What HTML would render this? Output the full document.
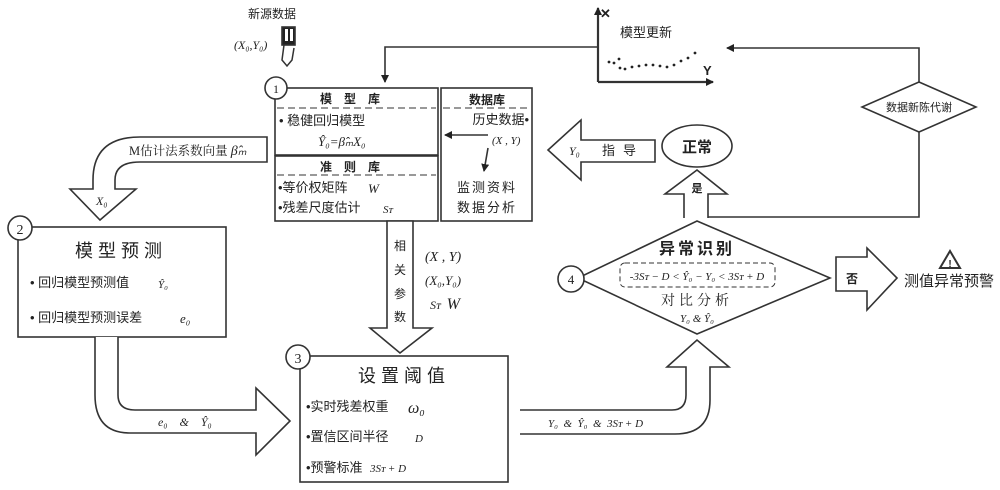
<!DOCTYPE html>
<html><head><meta charset="utf-8"><style>
html,body{margin:0;padding:0;background:#fff;width:1000px;height:490px;overflow:hidden}
svg{display:block}
text{font-family:"Liberation Serif","Noto Serif CJK SC","Noto Sans CJK SC",serif;fill:#222;white-space:pre}
.b{font-family:"Liberation Sans","Noto Sans CJK SC",sans-serif;font-weight:bold}
.s{font-family:"Liberation Sans","Noto Sans CJK SC",sans-serif}
.i{font-style:italic;font-family:"Liberation Serif",serif}
</style></head><body>
<svg width="1000" height="490" viewBox="0 0 1000 490" xmlns="http://www.w3.org/2000/svg">
<defs><marker id="ah" markerWidth="8" markerHeight="8" refX="7" refY="4" orient="auto" markerUnits="userSpaceOnUse"><path d="M0,0 L8,4 L0,8 z" fill="#222"/></marker></defs>
<g fill="none" stroke="#333" stroke-width="1.6">
<polyline points="598,47 385,47 385,82" marker-end="url(#ah)"/>
<polyline points="919,82 919,48 727,48" marker-end="url(#ah)"/>
<polyline points="919,132 919,217 708,217"/>
<line x1="598" y1="82" x2="713" y2="82" marker-end="url(#ah)" stroke-width="2.2"/>
<line x1="598" y1="82" x2="598" y2="8" marker-end="url(#ah)" stroke-width="2.2"/>
<rect x="275" y="88" width="163" height="67"/>
<rect x="275" y="156" width="163" height="65"/>
<rect x="441" y="88" width="91" height="133"/>
<line x1="277" y1="108" x2="436" y2="108" stroke-dasharray="7,4" stroke-width="1"/>
<line x1="277" y1="175" x2="436" y2="175" stroke-dasharray="7,4" stroke-width="1"/>
<line x1="443" y1="108" x2="530" y2="108" stroke-dasharray="7,4" stroke-width="1"/>
<line x1="488" y1="135" x2="445" y2="135" marker-end="url(#ah)"/>
<line x1="488" y1="148" x2="484" y2="171" marker-end="url(#ah)"/>
<rect x="18" y="227" width="208" height="110"/>
<rect x="300" y="356" width="208" height="126"/>
<path d="M267,137 L140,137 Q93,137 93,180 L93,189 L70,189 L100,220 L136,189 L115,189 L115,180 Q115,162 140,162 L267,162 Z" fill="#fff"/>
<path d="M95,337 L95,395 Q95,433 130,433 L256,433 L256,455 L290,421 L256,388 L256,410 L135,410 Q118,410 118,395 L118,337" fill="#fff"/>
<path d="M387,221 L387,328 L370,328 L400,353 L432,328 L413,328 L413,221 Z" fill="#fff"/>
<path d="M520,410 L672,410 Q686,410 686,395 L686,367 L667,367 L697,340 L729,367 L710,367 L710,400 Q710,434 675,434 L520,434" fill="#fff"/>
<path d="M697,221 L830,278 L697,334 L578,278 Z" fill="#fff"/>
<rect x="620" y="263" width="155" height="24" rx="5" stroke-dasharray="5,3" stroke-width="1"/>
<path d="M684,218 L684,194 L665,194 L697,170 L727,194 L708,194 L708,218" fill="#fff"/>
<ellipse cx="697" cy="146" rx="35" ry="21" fill="#fff"/>
<path d="M655,140 L581,140 L581,120 L548,150 L581,180 L581,162 L655,162 Z" fill="#fff"/>
<path d="M836,257 L867,257 L867,248 L897,278 L867,310 L867,291 L836,291 Z" fill="#fff"/>
<path d="M919,82 L976,107 L919,132 L862,107 Z" fill="#fff"/>
<path d="M950,251 L960,268 L940,268 Z" stroke-width="2"/>
<rect x="282" y="27" width="13" height="18" fill="#222"/>
<path d="M284,45 L282,60 L287,66 L292,60 L294,48" stroke-width="1.5"/>
<circle cx="276" cy="88" r="11" fill="#fff"/>
<circle cx="20" cy="228" r="12" fill="#fff"/>
<circle cx="298" cy="357" r="12" fill="#fff"/>
<circle cx="571" cy="279" r="13" fill="#fff"/>
</g>
<rect x="285" y="29" width="3" height="12" fill="#fff"/><rect x="290" y="29" width="3" height="12" fill="#fff"/>
<g fill="#222">
<circle cx="609" cy="62" r="1.4"/><circle cx="614" cy="63" r="1.4"/><circle cx="619" cy="59" r="1.4"/><circle cx="620" cy="68" r="1.4"/><circle cx="625" cy="69" r="1.4"/><circle cx="632" cy="67" r="1.4"/><circle cx="639" cy="66" r="1.4"/><circle cx="646" cy="65" r="1.4"/><circle cx="653" cy="65" r="1.4"/><circle cx="660" cy="66" r="1.4"/><circle cx="667" cy="67" r="1.4"/><circle cx="674" cy="65" r="1.4"/><circle cx="681" cy="61" r="1.4"/><circle cx="688" cy="58" r="1.4"/><circle cx="695" cy="53" r="1.4"/>
</g>
<text x="272" y="18" font-size="12" class="s" text-anchor="middle">新源数据</text>
<text x="234" y="49" font-size="12" class="i">(X₀,Y₀)</text>
<text x="276" y="93" font-size="12" text-anchor="middle">1</text>
<text x="20" y="234" font-size="14" text-anchor="middle">2</text>
<text x="298" y="363" font-size="14" text-anchor="middle">3</text>
<text x="571" y="284" font-size="13" text-anchor="middle">4</text>
<text x="600" y="18" font-size="13" class="b">✕</text>
<text x="620" y="37" font-size="13" class="s">模型更新</text>
<text x="703" y="75" font-size="13" class="b">Y</text>
<text x="356" y="103" font-size="12" class="b" text-anchor="middle" letter-spacing="12">模型库</text>
<text x="279" y="125" font-size="13" class="s">• 稳健回归模型</text>
<text x="318" y="146" font-size="13" class="i">Ŷ₀=β̂ₘX₀</text>
<text x="356" y="171" font-size="12" class="b" text-anchor="middle" letter-spacing="12">准则库</text>
<text x="278" y="192" font-size="13" class="s">•等价权矩阵</text>
<text x="368" y="193" font-size="13" class="i">W</text>
<text x="278" y="212" font-size="13" class="s">•残差尺度估计</text>
<text x="383" y="213" font-size="11" class="i">Sᴛ</text>
<text x="487" y="104" font-size="12" class="b" text-anchor="middle">数据库</text>
<text x="529" y="124" font-size="13" class="s" text-anchor="end">历史数据•</text>
<text x="492" y="144" font-size="11" class="i">(X , Y)</text>
<text x="487" y="192" font-size="13" class="s" text-anchor="middle" letter-spacing="2">监测资料</text>
<text x="487" y="212" font-size="13" class="s" text-anchor="middle" letter-spacing="2">数据分析</text>
<text x="129" y="155" font-size="12.5">M估计法系数向量 <tspan class="i" font-size="14">β̂ₘ</tspan></text>
<text x="96" y="205" font-size="12" class="i">X₀</text>
<text x="121" y="257" font-size="18" class="s" text-anchor="middle" letter-spacing="5">模型预测</text>
<text x="30" y="287" font-size="13" class="s">• 回归模型预测值</text>
<text x="158" y="288" font-size="11" class="i">Ŷ₀</text>
<text x="30" y="322" font-size="13" class="s">• 回归模型预测误差</text>
<text x="180" y="323" font-size="13" class="i">e₀</text>
<text x="158" y="426" font-size="12" class="i">e₀    &amp;    Ŷ₀</text>
<text x="400" y="250" font-size="12" class="s" text-anchor="middle">相</text>
<text x="400" y="274" font-size="12" class="s" text-anchor="middle">关</text>
<text x="400" y="298" font-size="12" class="s" text-anchor="middle">参</text>
<text x="400" y="321" font-size="12" class="s" text-anchor="middle">数</text>
<text x="425" y="261" font-size="14" class="i">(X , Y)</text>
<text x="425" y="285" font-size="13" class="i">(X₀,Y₀)</text>
<text x="430" y="309" font-size="12" class="i">Sᴛ  <tspan font-size="16">W</tspan></text>
<text x="404" y="382" font-size="18" class="s" text-anchor="middle" letter-spacing="5">设置阈值</text>
<text x="306" y="411" font-size="13" class="s">•实时残差权重</text>
<text x="408" y="413" font-size="16" class="i">ω₀</text>
<text x="306" y="441" font-size="13" class="s">•置信区间半径</text>
<text x="415" y="442" font-size="11" class="i">D</text>
<text x="306" y="472" font-size="13" class="s">•预警标准</text>
<text x="370" y="472" font-size="11" class="i">3Sᴛ + D</text>
<text x="548" y="427" font-size="11" class="i">Y₀  &amp;  Ŷ₀  &amp;  3Sᴛ + D</text>
<text x="697" y="254" font-size="16" class="b" text-anchor="middle" letter-spacing="3">异常识别</text>
<text x="697" y="280" font-size="11" class="i" text-anchor="middle">-3Sᴛ − D &lt; Ŷ₀ − Y₀ &lt; 3Sᴛ + D</text>
<text x="697" y="305" font-size="14" text-anchor="middle" letter-spacing="4" fill="#555">对比分析</text>
<text x="697" y="322" font-size="11" class="i" text-anchor="middle">Y₀ &amp; Ŷ₀</text>
<text x="697" y="192" font-size="11" class="b" text-anchor="middle">是</text>
<text x="697" y="152" font-size="15" class="b" text-anchor="middle">正常</text>
<text x="569" y="155" font-size="12" class="i">Y₀</text>
<text x="602" y="155" font-size="13" class="s" letter-spacing="8">指导</text>
<text x="852" y="283" font-size="12" class="b" text-anchor="middle">否</text>
<text x="950" y="267" font-size="10" class="b" text-anchor="middle">!</text>
<text x="949" y="286" font-size="15" class="s" text-anchor="middle">测值异常预警</text>
<text x="919" y="111" font-size="11" class="s" text-anchor="middle">数据新陈代谢</text>
</svg>
</body></html>
